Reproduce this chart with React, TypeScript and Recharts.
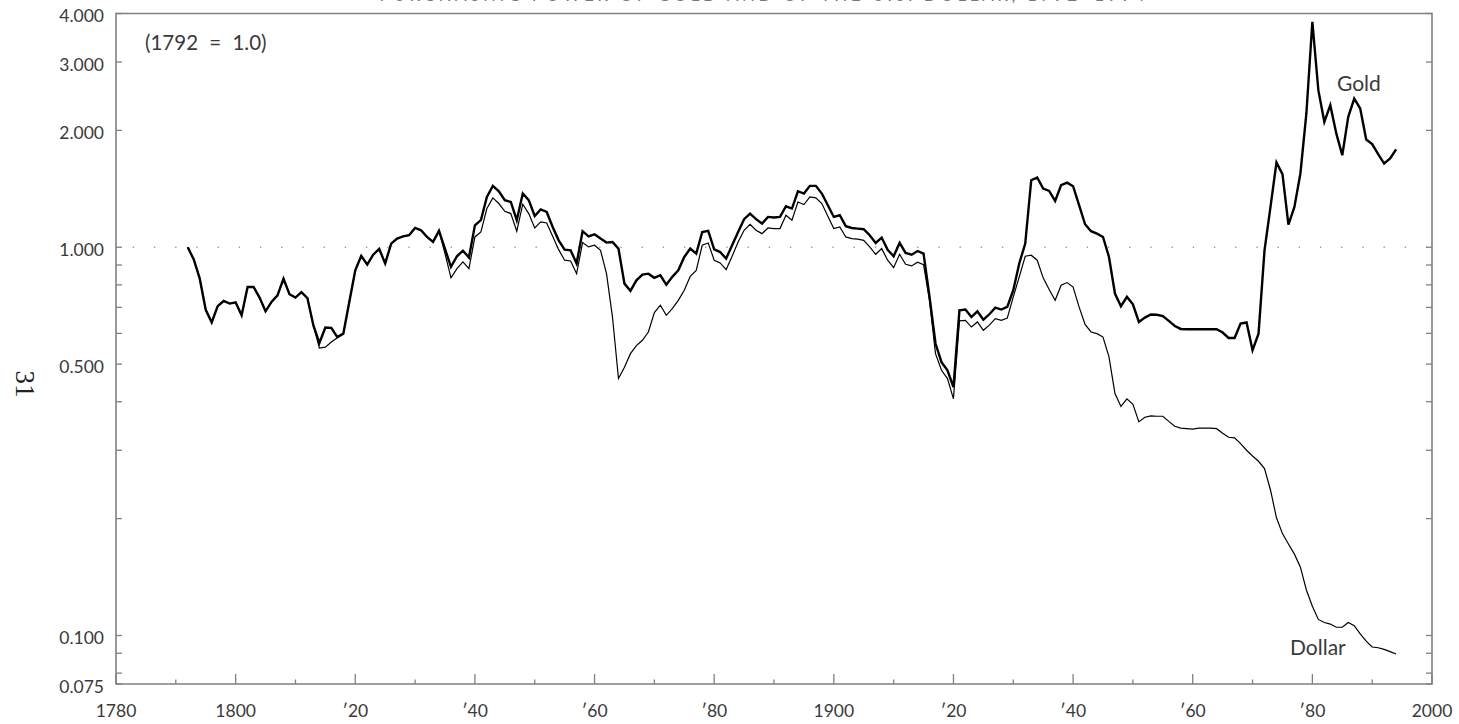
import React from "react";
import { LineChart, Line, XAxis, YAxis, ReferenceLine, ReferenceArea } from "recharts";

const FIRST_YEAR = 1792;

// purchasing power of gold, 1792 = 1.0 (one value per year, 1792-1994)
const goldIndex = [
  1.0, 0.93, 0.83, 0.69, 0.64, 0.705, 0.727, 0.716,
  0.721, 0.668, 0.79, 0.79, 0.742, 0.684, 0.723, 0.752, 0.83, 0.757,
  0.742, 0.766, 0.74, 0.629, 0.567, 0.621, 0.62, 0.587, 0.599, 0.723,
  0.872, 0.95, 0.902, 0.957, 0.99, 0.908, 1.022, 1.053, 1.067, 1.074,
  1.121, 1.106, 1.063, 1.032, 1.102, 0.99, 0.89, 0.948, 0.98, 0.941,
  1.139, 1.174, 1.348, 1.439, 1.394, 1.322, 1.308, 1.174, 1.375, 1.322,
  1.204, 1.251, 1.233, 1.128, 1.042, 0.986, 0.982, 0.908, 1.1, 1.067,
  1.08, 1.053, 1.028, 1.032, 0.992, 0.806, 0.772, 0.822, 0.85, 0.855,
  0.834, 0.847, 0.801, 0.839, 0.872, 0.944, 0.992, 0.963, 1.095, 1.102,
  0.988, 0.972, 0.935, 1.012, 1.095, 1.181, 1.221, 1.181, 1.151, 1.197,
  1.193, 1.197, 1.275, 1.258, 1.394, 1.375, 1.439, 1.439, 1.375, 1.283,
  1.197, 1.209, 1.133, 1.121, 1.117, 1.113, 1.074, 1.026, 1.059, 0.985,
  0.948, 1.026, 0.967, 0.957, 0.978, 0.963, 0.745, 0.565, 0.506, 0.482,
  0.436, 0.688, 0.691, 0.661, 0.684, 0.651, 0.672, 0.699, 0.691, 0.702,
  0.775, 0.908, 1.022, 1.488, 1.512, 1.416, 1.397, 1.316, 1.445, 1.467,
  1.436, 1.283, 1.146, 1.1, 1.084, 1.063, 0.944, 0.76, 0.705, 0.745,
  0.713, 0.642, 0.659, 0.671, 0.67, 0.665, 0.646, 0.627, 0.616, 0.615,
  0.615, 0.615, 0.615, 0.615, 0.615, 0.603, 0.584, 0.584, 0.636, 0.64,
  0.543, 0.599, 0.982, 1.27, 1.653, 1.542, 1.144, 1.27, 1.549, 2.211,
  3.808, 2.539, 2.104, 2.323, 1.964, 1.726, 2.167, 2.416, 2.278, 1.895,
  1.843, 1.737, 1.643, 1.693, 1.786,
];

// purchasing power of the dollar, 1792 = 1.0
const dollarIndex = [
  1.0, 0.93, 0.83, 0.69, 0.64, 0.705, 0.727, 0.716,
  0.721, 0.668, 0.79, 0.79, 0.742, 0.684, 0.723, 0.752, 0.83, 0.757,
  0.742, 0.766, 0.74, 0.629, 0.55, 0.553, 0.57, 0.585, 0.599, 0.723,
  0.872, 0.95, 0.902, 0.957, 0.99, 0.908, 1.022, 1.053, 1.067, 1.074,
  1.121, 1.106, 1.063, 1.032, 1.102, 0.963, 0.834, 0.881, 0.917, 0.881,
  1.063, 1.095, 1.258, 1.34, 1.296, 1.238, 1.221, 1.1, 1.291, 1.221,
  1.121, 1.162, 1.155, 1.067, 0.986, 0.926, 0.922, 0.855, 1.028, 1.002,
  1.012, 0.982, 0.855, 0.661, 0.459, 0.491, 0.532, 0.558, 0.576, 0.605,
  0.679, 0.709, 0.668, 0.695, 0.73, 0.775, 0.842, 0.872, 1.012, 1.026,
  0.926, 0.911, 0.876, 0.948, 1.032, 1.106, 1.146, 1.106, 1.084, 1.121,
  1.117, 1.117, 1.209, 1.174, 1.308, 1.288, 1.348, 1.34, 1.296, 1.202,
  1.117, 1.128, 1.063, 1.053, 1.049, 1.042, 1.002, 0.959, 0.992, 0.926,
  0.886, 0.959, 0.904, 0.895, 0.915, 0.902, 0.73, 0.532, 0.482, 0.459,
  0.407, 0.646, 0.648, 0.623, 0.642, 0.611, 0.63, 0.655, 0.648, 0.657,
  0.745, 0.839, 0.948, 0.954, 0.926, 0.834, 0.778, 0.73, 0.798, 0.811,
  0.79, 0.702, 0.633, 0.605, 0.599, 0.587, 0.522, 0.42, 0.389, 0.407,
  0.394, 0.355, 0.365, 0.368, 0.367, 0.367, 0.356, 0.346, 0.342, 0.341,
  0.34, 0.342, 0.342, 0.342, 0.341, 0.332, 0.324, 0.323, 0.312, 0.3,
  0.29, 0.281, 0.269, 0.237, 0.201, 0.183, 0.172, 0.162, 0.15, 0.131,
  0.119, 0.11, 0.108, 0.107, 0.105, 0.105, 0.108, 0.106, 0.101, 0.0967,
  0.0934, 0.093, 0.0921, 0.0909, 0.0896,
];

const years = goldIndex.map((_, i) => FIRST_YEAR + i);

const yTicks = [0.075, 0.08, 0.09, 0.1, 0.2, 0.3, 0.4, 0.5, 0.6, 0.7, 0.8, 0.9, 1, 2, 3, 4];
const yLabeled = [0.075, 0.1, 0.5, 1, 2, 3, 4];
const xTicks = [
  1780, 1790, 1800, 1810, 1820, 1830, 1840, 1850, 1860, 1870, 1880, 1890,
  1900, 1910, 1920, 1930, 1940, 1950, 1960, 1970, 1980, 1990, 2000,
];

const data = years.map((year, i) => ({
  year,
  gold: goldIndex[i],
  dollar: dollarIndex[i],
}));

const FONT = "Lato, 'Open Sans', sans-serif";
const TEXT = "#3a3a3a";
const FRAME = "#808080";

const yearLabel = (y: number) =>
  y % 100 === 0 || y === 1780 ? String(y) : "\u2032" + String(y % 100).padStart(2, "0");

// ticks point into the plot, labels sit outside
const LeftTick = ({ x, y, payload }: any) => {
  const v = payload.value;
  return (
    <g>
      <line x1={x} y1={y} x2={x + 6} y2={y} stroke={FRAME} strokeWidth={1.3} />
      {yLabeled.includes(v) && (
        <text x={x - 12} y={y} dy={8.5} textAnchor="end" fontFamily={FONT} fontSize={17.5} fill={TEXT}>
          {v.toFixed(3)}
        </text>
      )}
    </g>
  );
};

const RightTick = ({ x, y }: any) => (
  <line x1={x - 6} y1={y} x2={x} y2={y} stroke={FRAME} strokeWidth={1.3} />
);

const BottomTick = ({ x, y, payload }: any) => {
  const v = payload.value;
  const major = v % 20 === 0;
  return (
    <g>
      <line x1={x} y1={y} x2={x} y2={y - (major ? 10 : 4.5)} stroke={FRAME} strokeWidth={1.3} />
      {major && (
        <text x={x} y={y} dy={32.7} textAnchor="middle" fontFamily={FONT} fontSize={17.5} fill={TEXT}>
          {yearLabel(v)}
        </text>
      )}
    </g>
  );
};

export default function App() {
  return (
    <div style={{ position: "absolute", left: 0, top: 0, width: 1459, height: 724, background: "#fff" }}>
      <LineChart width={1459} height={724} data={data} margin={{ top: 13.5, right: 0, bottom: 0, left: 0 }}>
        <XAxis
          dataKey="year"
          type="number"
          domain={[1780, 2000]}
          ticks={xTicks}
          interval={0}
          height={40}
          axisLine={false}
          tickLine={false}
          tickSize={0}
          tickMargin={0}
          tick={<BottomTick />}
        />
        <YAxis
          yAxisId="left"
          scale="log"
          type="number"
          domain={[0.075, 4]}
          allowDataOverflow
          ticks={yTicks}
          interval={0}
          width={116}
          axisLine={false}
          tickLine={false}
          tickSize={0}
          tickMargin={0}
          tick={<LeftTick />}
        />
        <YAxis
          yAxisId="right"
          orientation="right"
          scale="log"
          type="number"
          domain={[0.075, 4]}
          allowDataOverflow
          ticks={yTicks}
          interval={0}
          width={27}
          axisLine={false}
          tickLine={false}
          tickSize={0}
          tickMargin={0}
          tick={<RightTick />}
        />
        <ReferenceArea
          yAxisId="left"
          x1={1780}
          x2={2000}
          y1={0.075}
          y2={4}
          fill="none"
          stroke={FRAME}
          strokeWidth={1.6}
        />
        <ReferenceLine
          yAxisId="left"
          y={1}
          stroke="#a0a0a0"
          strokeWidth={1.4}
          strokeDasharray="1.4 19.8"
          strokeDashoffset={4.5}
        />
        <Line
          yAxisId="left"
          dataKey="dollar"
          type="linear"
          stroke="#000"
          strokeWidth={1.2}
          dot={false}
          isAnimationActive={false}
        />
        <Line
          yAxisId="left"
          dataKey="gold"
          type="linear"
          stroke="#000"
          strokeWidth={2.4}
          dot={false}
          isAnimationActive={false}
        />
      </LineChart>
      <svg
        width={1459}
        height={724}
        style={{ position: "absolute", left: 0, top: 0, pointerEvents: "none" }}
      >
        {/* page heading runs off the top edge; only the foot of its letters shows */}
        <text
          x={762}
          y={1}
          textAnchor="middle"
          textLength={765}
          lengthAdjust="spacing"
          fontFamily={FONT}
          fontSize={17}
          fill="#777"
        >
          PURCHASING POWER OF GOLD AND OF THE U.S. DOLLAR, 1792–1994
        </text>
        <text
          transform="translate(25 384) rotate(90)"
          textAnchor="middle"
          dy="0.35em"
          fontFamily="'Liberation Serif', serif"
          fontSize={27}
          fill="#222"
        >
          31
        </text>
        <text x={145} y={50} fontFamily={FONT} fontSize={20.5} wordSpacing={6} fill={TEXT}>
          (1792 = 1.0)
        </text>
        <text x={1337} y={91} fontFamily={FONT} fontSize={21} fill={TEXT}>
          Gold
        </text>
        <text x={1290} y={655} fontFamily={FONT} fontSize={21} fill={TEXT}>
          Dollar
        </text>
      </svg>
    </div>
  );
}
